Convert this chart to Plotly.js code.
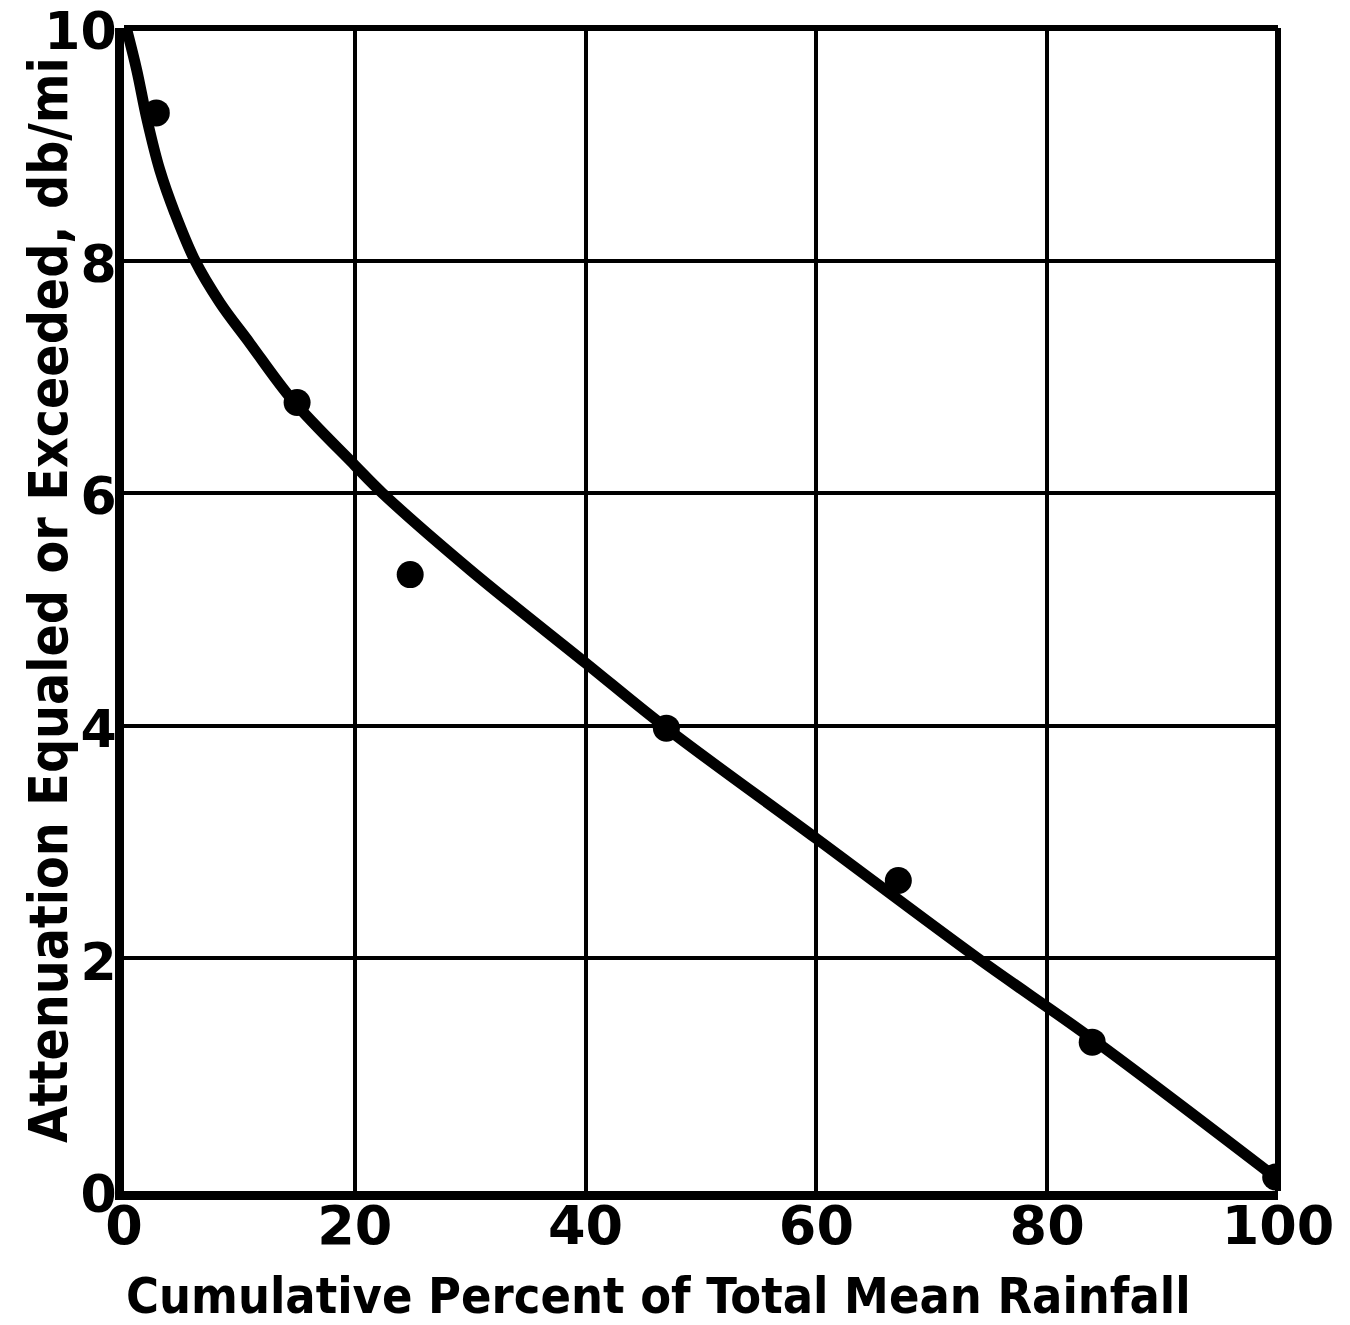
<!DOCTYPE html>
<html>
<head>
<meta charset="utf-8">
<script src="https://cdn.plot.ly/plotly-3.0.1.min.js"></script>
<style>html,body{margin:0;padding:0;background:#fff;}#chart{width:1350px;height:1325px;}</style>
</head>
<body>
<div id="chart"></div>
<script>
// Observed data points
const pointX = [2.8, 15.0, 24.8, 47.0, 67.1, 83.9, 99.8];
const pointY = [9.27, 6.78, 5.30, 3.98, 2.67, 1.28, 0.12];
// Fitted curve
const curveX = [0.2, 1.1, 2.0, 3.1, 4.4, 6.15, 8.3, 10.9, 14.6, 20, 22.4, 30, 40, 47, 60, 74, 84, 100];
const curveY = [10.0, 9.64, 9.21, 8.78, 8.41, 8.0, 7.64, 7.29, 6.80, 6.24, 6.0, 5.34, 4.54, 3.98, 3.03, 2.0, 1.3, 0.1];
const xTicks = [0, 20, 40, 60, 80, 100];
const yTicks = [0, 2, 4, 6, 8, 10];
const xTitle = 'Cumulative Percent of Total Mean Rainfall';
const yTitle = 'Attenuation Equaled or Exceeded, db/mi';

const traces = [
  {x: curveX, y: curveY, mode: 'lines', line: {color: '#000', width: 11, shape: 'spline', smoothing: 1}, hoverinfo: 'skip', showlegend: false},
  {x: pointX, y: pointY, mode: 'markers', marker: {color: '#000', size: 27}, showlegend: false}
];

const layout = {
  width: 1350, height: 1325,
  paper_bgcolor: '#fff', plot_bgcolor: '#fff',
  margin: {l: 124, r: 72, t: 28, b: 134},
  showlegend: false,
  xaxis: {
    range: [0, 100], tickvals: xTicks, ticktext: xTicks.map(String),
    showgrid: true, gridcolor: '#000', gridwidth: 4, zeroline: false,
    showline: true, linecolor: '#000', linewidth: 9, ticks: '',
    ticklabelstandoff: -21, ticklabeloverflow: 'allow',
    tickfont: {family: 'DejaVu Sans', size: 54, color: '#000', weight: 'bold'}
  },
  yaxis: {
    range: [0, 10], tickvals: yTicks, ticktext: yTicks.map(String),
    showgrid: true, gridcolor: '#000', gridwidth: 4, zeroline: false,
    showline: true, linecolor: '#000', linewidth: 9, ticks: '',
    ticklabelstandoff: -12, ticklabelshift: 3, ticklabeloverflow: 'allow',
    tickfont: {family: 'DejaVu Sans', size: 52, color: '#000', weight: 'bold'}
  },
  annotations: [
    {text: xTitle, xref: 'paper', yref: 'paper', x: 0.463, y: -0.090, xanchor: 'center', yanchor: 'middle', showarrow: false,
     font: {family: 'DejaVu Sans Condensed', size: 50, color: '#000', weight: 'bold'}},
    {text: yTitle, xref: 'paper', yref: 'paper', x: -0.066, y: 0.508, xanchor: 'center', yanchor: 'middle', showarrow: false, textangle: -90,
     font: {family: 'DejaVu Sans Condensed', size: 53, color: '#000', weight: 'bold'}}
  ],
  shapes: [
    {type: 'line', xref: 'paper', yref: 'paper', x0: 0, x1: 1, y0: 1, y1: 1, line: {color: '#000', width: 6}},
    {type: 'line', xref: 'paper', yref: 'paper', x0: 1, x1: 1, y0: 0, y1: 1, line: {color: '#000', width: 6}}
  ]
};

Plotly.newPlot('chart', traces, layout, {displayModeBar: false, staticPlot: true});
</script>
</body>
</html>
